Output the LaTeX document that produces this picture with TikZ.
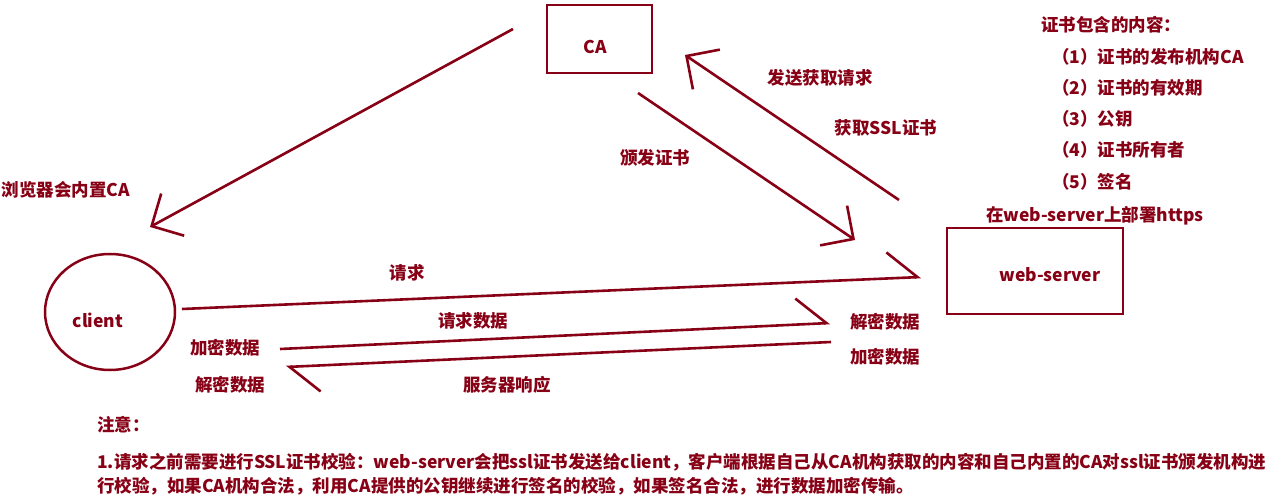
\documentclass[tikz,border=0pt]{standalone}
\usepackage{fontspec}
\setmainfont{Noto Sans CJK SC}
\usetikzlibrary{arrows.meta,shapes.geometric}
\definecolor{dred}{RGB}{136,0,21}
\begin{document}
\begin{tikzpicture}[x=1pt,y=-1pt,
  every node/.style={font=\fontsize{17.5}{20}\selectfont\bfseries, text=dred, inner sep=0pt},
  arr/.style={draw=dred, line width=2.6pt, -{Straight Barb[length=24pt,width=48pt]}},
  harp/.style={draw=dred, line width=2.6pt, -{Straight Barb[length=30pt,width=52pt,harpoon]}},
]
\useasboundingbox[fill=white] (0,0) rectangle (1270,497);

% main shapes
\node[draw=dred, line width=2.8pt, minimum width=105pt, minimum height=68pt] (cabox) at (599.5,39) {};
\node (catext) at (595,47) {CA};
\node[draw=dred, line width=2.5pt, ellipse, minimum width=130pt, minimum height=116pt] (client) at (110,312) {};
\node (clienttext) at (98,320) {client};
\node[draw=dred, line width=2.8pt, minimum width=176pt, minimum height=86pt] (ws) at (1035,271) {};
\node (wstext) at (1050,275) {web-server};

% connector end points
\coordinate (a1s) at (513,29);  \coordinate (a1e) at (150,227);
\coordinate (a2s) at (638,93);  \coordinate (a2e) at (855,240);
\coordinate (a3s) at (899,200); \coordinate (a3e) at (685,55);
\coordinate (a4s) at (182,309); \coordinate (a4e) at (921,277);
\coordinate (a5s) at (280,349); \coordinate (a5e) at (830,323);
\coordinate (a6s) at (831,342); \coordinate (a6e) at (286,367);

\draw[arr] (a1s) -- (a1e);
\draw[arr] (a2s) -- (a2e);
\draw[arr] (a3s) -- (a3e);
\draw[harp] (a4s) -- (a4e);
\draw[harp] (a5s) -- (a5e);
\draw[harp] (a6s) -- (a6e);

% labels
\node (l1) at (66,190) {浏览器会内置CA};
\node (l2) at (655,158) {颁发证书};
\node (l3) at (820,78) {发送获取请求};
\node (l4) at (886,128) {获取SSL证书};
\node (l5) at (407,273) {请求};
\node (l6) at (473,321) {请求数据};
\node (l7) at (225,348) {加密数据};
\node (l8) at (230,385) {解密数据};
\node (l9) at (507,385) {服务器响应};
\node (l10) at (885,322) {解密数据};
\node (l11) at (885,357) {加密数据};
\node (l12) at (1095,216) {在web-server上部署https};

% certificate content list
\node[anchor=west] (c0) at (1041,25) {证书包含的内容：};
\node[anchor=west] (c1) at (1052,57) {（1）证书的发布机构CA};
\node[anchor=west] (c2) at (1052,88) {（2）证书的有效期};
\node[anchor=west] (c3) at (1052,119) {（3）公钥};
\node[anchor=west] (c4) at (1052,150) {（4）证书所有者};
\node[anchor=west] (c5) at (1052,182) {（5）签名};

% note
\node[anchor=west] (n0) at (97,425) {注意：};
\node[anchor=west] (n1) at (97,462) {1.请求之前需要进行SSL证书校验：web-server会把ssl证书发送给client，客户端根据自己从CA机构获取的内容和自己内置的CA对ssl证书颁发机构进};
\node[anchor=west] (n2) at (97,486) {行校验，如果CA机构合法，利用CA提供的公钥继续进行签名的校验，如果签名合法，进行数据加密传输。};
\end{tikzpicture}
\end{document}
